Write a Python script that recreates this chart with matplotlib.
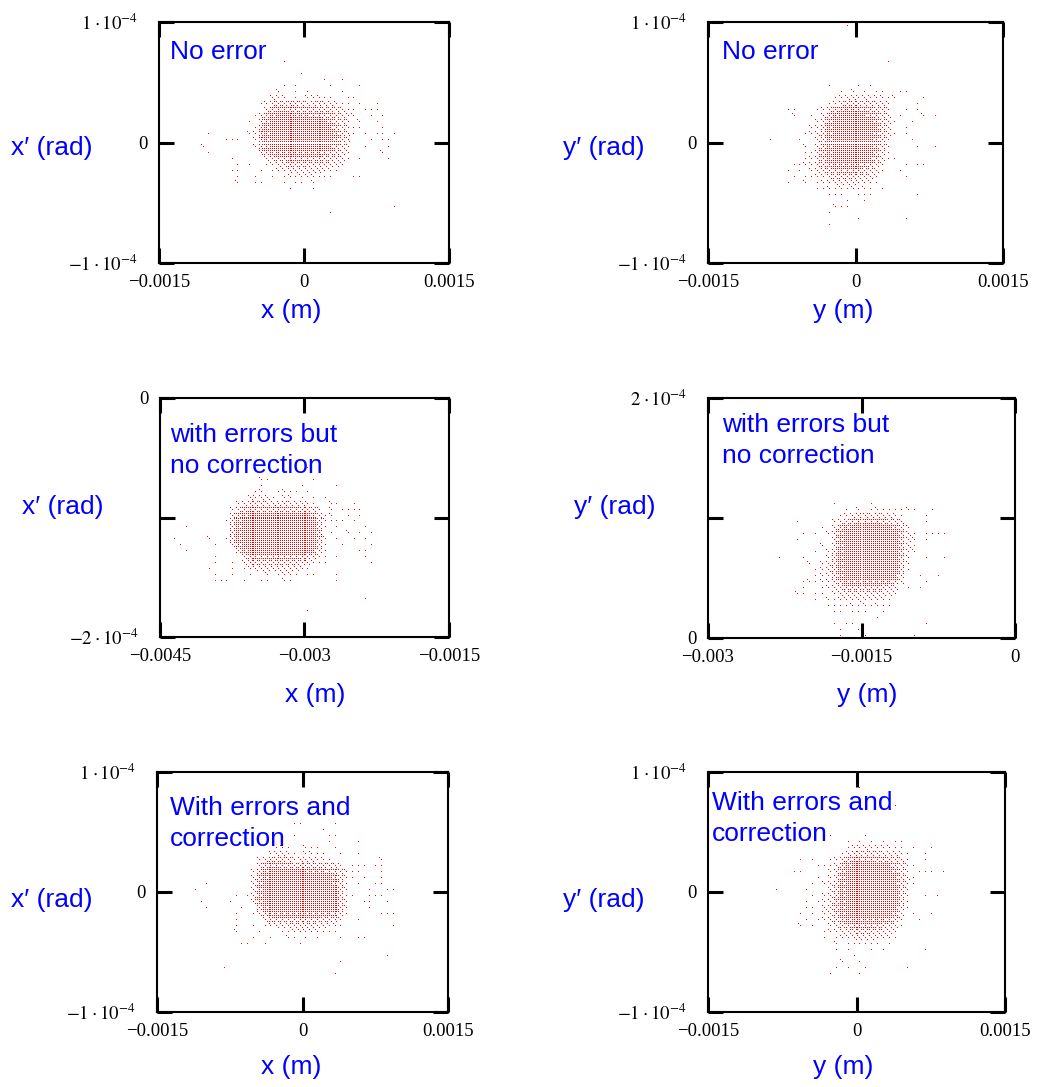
import numpy as np
import matplotlib.pyplot as plt
from matplotlib.transforms import ScaledTranslation

plt.rcParams['mathtext.fontset'] = 'stix'

W, H = 1039, 1087

# phase-space clouds, one digit per cell = number of particles in that cell
CELL_X = 6e-5   # m
CELL_Y = 5e-6   # rad

# x-x' without errors, grid starts at x=-1.08e-3, x'=7.5e-5
X_NO_ERROR = [
    "00000 00000 00000 00000 00000 00000 00000",
    "00000 00000 00001 00000 00000 00000 00000",
    "00000 00000 00000 00000 00000 00000 00000",
    "00000 00000 00000 00100 00000 00000 00000",
    "00000 00000 00000 00000 01001 00000 00000",
    "00000 00000 00001 01000 00100 00100 00000",
    "00000 00000 00020 01010 00001 00000 00000",
    "00000 00000 00322 01022 21100 11000 00000",
    "00000 00000 12455 45434 43321 10100 10000",
    "00000 00000 03677 66666 55543 11011 10000",
    "00000 00001 36899 88887 76653 22001 01000",
    "00000 00010 47999 99999 99754 20200 10000",
    "00000 00001 58999 99999 99864 21100 01000",
    "01000 00022 68999 99999 99975 31010 11010",
    "00001 11002 68999 99999 99975 30001 01100",
    "20000 00002 57999 99999 99864 20010 00100",
    "01000 00000 46888 88888 87653 20000 02000",
    "00000 10000 03466 77776 65543 10100 00100",
    "00000 01010 01234 55554 44332 00000 00000",
    "00000 11000 10122 33333 32210 00000 00000",
    "00000 01001 00101 21222 11100 01100 00000",
    "00000 02001 10001 01102 00000 00000 00000",
    "00000 00000 00000 10001 00000 00000 00000",
    "00000 00000 00000 00000 00000 00000 00000",
    "00000 00000 00000 00000 00000 00000 00000",
    "00000 00000 00000 00000 00000 00000 00010",
    "00000 00000 00000 00000 00100 00000 00000",
]

# y-y' without errors, grid starts at y=-1.02e-3, y'=1e-4
Y_NO_ERROR = [
    "00000 00000 00000 10000 00000 00000 00000",
    "00000 00000 00000 00000 00000 00000 00000",
    "00000 00000 00000 00000 00000 00000 00000",
    "00000 00000 00000 00000 00000 00000 00000",
    "00000 00000 00000 00000 00000 00000 00000",
    "00000 00000 00000 00000 00000 00000 00000",
    "00000 00000 00000 00000 00100 00000 00000",
    "00000 00000 00000 00000 00000 00000 00000",
    "00000 00000 00000 00000 00000 00000 00000",
    "00000 00000 00000 00000 00000 00000 00000",
    "00000 00000 00100 00101 00000 00000 00000",
    "00000 00000 00001 02010 11001 10000 00000",
    "00000 00000 00012 33232 22120 00010 00000",
    "00000 00000 00124 55544 33200 00100 00000",
    "00000 11000 12467 88776 54200 10100 00000",
    "00000 02001 03689 99987 64301 00020 10000",
    "00000 00000 24799 99999 75310 01000 00000",
    "00000 00002 25899 99999 85300 10000 00000",
    "00000 00012 35899 99999 75310 10000 00000",
    "00100 00100 35899 99999 75200 01000 00000",
    "00000 00020 36899 99999 74200 00100 10000",
    "00000 00011 46899 99999 64100 00000 00000",
    "00000 00012 46899 99998 63110 00000 00000",
    "00000 01122 45788 88876 42000 10110 00000",
    "00000 10102 34567 77654 31001 00000 00000",
    "00000 01011 22455 55443 20000 10000 00000",
    "00000 10020 12233 33222 10000 00000 00000",
    "00000 00000 11212 12121 01000 00000 00000",
    "00000 00000 00111 00111 00000 00100 00000",
    "00000 00000 00000 10010 00000 00000 00000",
    "00000 00000 00021 10000 00000 00000 00000",
    "00000 00000 00100 00000 00000 00000 00000",
    "00000 00000 00000 00100 00000 10000 00000",
    "00000 00000 00100 00000 00000 00000 00000",
]

# x-x' with errors, no correction, grid starts at x=-4.38e-3, x'=-5.5e-5
X_ERRORS = [
    "00000 00000 00000 00000 00010 00000 00000",
    "00000 00000 00000 00000 00000 00000 00000",
    "00000 00000 00000 21000 00001 00000 00000",
    "00000 00000 00000 10000 00100 00010 00000",
    "00000 00000 00001 20012 11010 00000 00000",
    "00000 00000 00032 33102 20101 01000 00000",
    "00000 00000 02344 43334 33321 00210 01000",
    "00000 00000 24676 66666 66554 20201 11100",
    "00000 00000 46899 99999 99997 41200 10100",
    "00000 00001 58999 99999 99999 52111 01000",
    "00100 00000 58999 99999 99999 51010 00010",
    "00000 00000 58999 99999 99999 60100 20101",
    "10000 02001 58999 99999 99999 62010 01010",
    "01000 00100 47999 99999 99999 51001 00001",
    "00100 00000 05899 99999 99998 41000 00110",
    "00000 00100 00467 77777 77654 21010 00010",
    "00000 00100 10345 55555 55432 11000 00001",
    "00000 01000 10123 33333 33210 00000 00000",
    "00000 00100 10010 02012 21011 00010 00000",
    "00000 00111 00100 11002 10000 00010 00000",
    "00000 00000 00000 00000 00000 00000 00000",
    "00000 00000 00000 00000 00000 00000 00000",
    "00000 00000 00000 00000 00000 00000 00010",
    "00000 00000 00000 00000 00000 00000 00000",
    "00000 00000 00000 00000 00010 00000 00000",
]

# y-y' with errors, no correction, grid starts at y=-2.4e-3, y'=1.2e-4
Y_ERRORS = [
    "00000 00000 00000 00000 00000 00000 00000",
    "00000 00000 10000 01000 00000 00000 00000",
    "00000 00000 00102 01211 11210 01000 00000",
    "00000 00000 01234 43433 21000 10000 00000",
    "00001 00000 23567 77765 43000 10000 00000",
    "00000 00010 36899 99999 75200 00000 00000",
    "00000 10102 47999 99999 96310 11110 00000",
    "00001 00000 47999 99999 96320 10000 00000",
    "00000 00020 47999 99999 96310 00000 00000",
    "00000 00102 58999 99999 96220 00000 00000",
    "01000 10002 58999 99999 96200 10010 00000",
    "00000 02023 58999 99999 95200 00000 00000",
    "00000 00123 58999 99999 95100 00000 00000",
    "00000 00122 57999 99999 84001 00100 00000",
    "00000 12122 46888 88888 63000 10000 00000",
    "00000 10012 34666 66654 30101 00000 00000",
    "00002 10110 23444 44433 20000 00000 00000",
    "00000 00102 12223 22221 00000 00000 00000",
    "00000 00001 11121 21211 00000 00000 00000",
    "00000 00000 11011 10010 00000 00000 00000",
    "00000 00000 00000 00100 00000 00000 00000",
    "00000 00000 10110 00000 00000 10000 00000",
    "00000 00000 01001 00000 00000 00000 00000",
    "00000 00000 01000 10000 00010 00000 00000",
]

# x-x' with errors and correction, grid starts at x=-1.14e-3, x'=6.5e-5
X_CORRECTED = [
    "00000 00000 00000 00000 00000 00000 00000",
    "00000 00000 00000 00110 00001 00000 00000",
    "00000 00000 00000 00000 00100 00000 00000",
    "00000 00000 00000 00100 00011 00000 00000",
    "00000 00000 00000 00000 00010 00010 00000",
    "00000 00000 00001 21002 11001 00000 00000",
    "00000 00000 00023 32102 21100 10010 00000",
    "00000 00000 02355 54233 32210 00000 00200",
    "00000 00000 04677 66555 55543 20111 01100",
    "00000 00000 25899 99998 88876 42110 00100",
    "00000 00000 36899 99999 99997 52101 00100",
    "00100 00000 37999 99999 99997 41010 01100",
    "10000 00000 37999 99999 99999 52000 10011",
    "00000 00101 37999 99999 99999 51100 11100",
    "01000 01000 47999 99999 99999 52001 10010",
    "00100 00010 05899 99999 99999 52000 10000",
    "00000 00100 13688 88888 88887 41000 00111",
    "00000 00100 00356 66666 66554 20010 00000",
    "00000 00100 10123 34434 43322 10000 00001",
    "00000 00200 01000 11222 22111 00000 00000",
    "00000 00000 10010 02101 01000 10011 00000",
    "00000 00011 00100 00010 00000 00000 00000",
    "00000 00000 00000 00000 00000 00000 00000",
    "00000 00000 00000 00000 00000 00000 00010",
    "00000 00000 00000 00000 00000 10000 00000",
    "00000 10000 00000 00000 00000 00000 00000",
    "00000 00000 00000 00000 00001 00000 00000",
]

# y-y' with errors and correction, grid starts at y=-8.4e-4, y'=9e-5
Y_CORRECTED = [
    "00000 00000 00001 00000 00000 00000 00000",
    "00000 00000 00000 00000 00000 00000 00000",
    "00000 00000 00000 00000 00000 00000 00000",
    "00000 00000 00000 00000 10000 00000 00000",
    "00000 00000 00000 00000 00000 00000 00000",
    "00000 00000 00000 00000 00000 00000 00000",
    "00000 00000 00000 00000 00000 00000 00000",
    "00000 00000 00000 00000 00000 00000 00000",
    "00000 00001 00000 10000 00000 00000 00000",
    "00000 00000 00101 01010 11000 00000 00000",
    "00000 00000 00122 32222 11010 01000 00000",
    "00000 00000 01344 44433 32100 10000 00000",
    "00001 01001 24677 77665 43100 10000 00000",
    "00000 00111 36899 99998 64210 00000 00000",
    "00011 00002 47999 99999 75201 11010 00000",
    "00000 00102 47999 99999 85310 00000 00000",
    "00000 01023 58999 99999 85210 00000 00000",
    "10000 10003 58999 99999 95200 00000 00000",
    "00000 01023 58999 99999 95200 10100 00000",
    "00000 10123 68999 99999 95100 00000 00000",
    "00000 11034 68999 99999 84100 00000 00000",
    "00001 01023 68999 99999 73010 01000 00000",
    "00000 10123 57888 88887 52001 00000 00000",
    "00002 01002 35677 77654 31000 00000 00000",
    "00000 00012 23445 55433 20000 00000 00000",
    "00000 00010 12233 33222 10000 00000 00000",
    "00000 00000 20111 11101 00000 00000 00000",
    "00000 00000 10100 01010 00000 10000 00000",
    "00000 00000 00010 00000 00000 00000 00000",
    "00000 00000 02001 00000 00000 00000 00000",
    "00000 00000 10100 10000 00100 00000 00000",
    "00000 00001 00001 00000 00000 00000 00000",
]

CLOUDS = [X_NO_ERROR, Y_NO_ERROR, X_ERRORS, Y_ERRORS, X_CORRECTED, Y_CORRECTED]
GRID_ORIGINS = [(-1.08e-3, 7.5e-5), (-1.02e-3, 1e-4), (-4.38e-3, -5.5e-5),
                (-2.4e-3, 1.2e-4), (-1.14e-3, 6.5e-5), (-8.4e-4, 9e-5)]

XLIMS = [(-0.0015, 0.0015), (-0.0015, 0.0015), (-0.0045, -0.0015),
         (-0.003, 0.0), (-0.0015, 0.0015), (-0.0015, 0.0015)]
YLIMS = [(-1e-4, 1e-4), (-1e-4, 1e-4), (-2e-4, 0.0),
         (0.0, 2e-4), (-1e-4, 1e-4), (-1e-4, 1e-4)]
XTICKLABELS = [["\u22120.0015", "0", "0.0015"],
               ["\u22120.0015", "0", "0.0015"],
               ["\u22120.0045", "\u22120.003", "\u22120.0015"],
               ["\u22120.003", "\u22120.0015", "0"],
               ["\u22120.0015", "0", "0.0015"],
               ["\u22120.0015", "0", "0.0015"]]
YTICKLABELS = [[r"$-1\;{\cdot}\,10^{-4}$", "0", r"$1\;{\cdot}\,10^{-4}$"],
               [r"$-1\;{\cdot}\,10^{-4}$", "0", r"$1\;{\cdot}\,10^{-4}$"],
               [r"$-2\;{\cdot}\,10^{-4}$", "", "0"],
               ["0", "", r"$2\;{\cdot}\,10^{-4}$"],
               [r"$-1\;{\cdot}\,10^{-4}$", "0", r"$1\;{\cdot}\,10^{-4}$"],
               [r"$-1\;{\cdot}\,10^{-4}$", "0", r"$1\;{\cdot}\,10^{-4}$"]]
XLABELS = ["x (m)", "y (m)", "x (m)", "y (m)", "x (m)", "y (m)"]
YLABELS = ["x\u2032 (rad)", "y\u2032 (rad)", "x\u2032 (rad)",
           "y\u2032 (rad)", "x\u2032 (rad)", "y\u2032 (rad)"]
CAPTIONS = [["No error"], ["No error"],
            ["with errors but", "no correction"],
            ["with errors but", "no correction"],
            ["With errors and", "correction"],
            ["With errors and", "correction"]]

# layout in pixels: axes box (left, top, right, bottom)
BOXES = [(159, 22, 449, 263), (708, 22, 1003, 263),
         (160, 398, 449, 637), (708, 398, 1015, 638),
         (157, 772, 448, 1012), (708, 772, 1005, 1012)]
XLABEL_POS = [(291, 311), (843, 311), (315, 695), (867, 695), (291, 1067), (843, 1067)]
YLABEL_POS = [(52, 148), (604, 148), (63, 507), (615, 507), (52, 900), (604, 900)]
CAPTION_POS = [(170, 59), (722, 59), (170, 442), (722, 432), (170, 815), (712, 810)]
CAPTION_STEP = 31

BLUE = "#0000ff"
SANS = ["Liberation Sans", "DejaVu Sans"]
SERIF = ["Liberation Serif", "DejaVu Serif"]

# sub-cell lattice order used to place particles inside a cell
FILL_ORDER = [(1, 1), (0, 0), (2, 2), (2, 0), (0, 2), (1, 0), (1, 2), (0, 1), (2, 1)]


def cloud_points(rows, x0, y_top):
    xs, ys = [], []
    for j, row in enumerate(rows):
        row = row.replace(" ", "")
        for k, ch in enumerate(row):
            for a, b in FILL_ORDER[:int(ch)]:
                xs.append(x0 + (k + (a + 0.5) / 3) * CELL_X)
                ys.append(y_top - (j + (b + 0.5) / 3) * CELL_Y)
    return np.array(xs), np.array(ys)


fig = plt.figure(figsize=(W / 100, H / 100), dpi=100)
# power-of-ten labels sit a little further from the frame
exp_shift = ScaledTranslation(-7 / 72, 0, fig.dpi_scale_trans)

for i in range(6):
    l, t, r, b = BOXES[i]
    ax = fig.add_axes([l / W, 1 - b / H, (r - l) / W, (b - t) / H])
    xs, ys = cloud_points(CLOUDS[i], *GRID_ORIGINS[i])
    # one-pixel particles, no smoothing so each lands on a single pixel
    ax.plot(xs, ys, ls="none", marker="s", markersize=0.72, mew=0,
            color="#ff0000", antialiased=False)

    ax.set_xlim(*XLIMS[i])
    ax.set_ylim(*YLIMS[i])
    x_lo, x_hi = XLIMS[i]
    y_lo, y_hi = YLIMS[i]
    ax.set_xticks([x_lo, (x_lo + x_hi) / 2, x_hi])
    ax.set_yticks([y_lo, (y_lo + y_hi) / 2, y_hi])
    ax.set_xticklabels(XTICKLABELS[i], family=SERIF, fontsize=13.5)
    ax.set_yticklabels(YTICKLABELS[i], family=SERIF, fontsize=13.5)
    ax.tick_params(direction="in", length=11, width=2.2, top=True, right=True,
                   pad=8, color="black")
    for lbl in ax.get_yticklabels():
        if "10" in lbl.get_text():
            lbl.set_transform(lbl.get_transform() + exp_shift)
    for sp in ax.spines.values():
        sp.set_linewidth(1.5)
        sp.set_color("black")

    fig.text(XLABEL_POS[i][0] / W, 1 - XLABEL_POS[i][1] / H, XLABELS[i],
             ha="center", va="center", color=BLUE, fontsize=19, family=SANS)
    fig.text(YLABEL_POS[i][0] / W, 1 - YLABEL_POS[i][1] / H, YLABELS[i],
             ha="center", va="center", color=BLUE, fontsize=19, family=SANS)
    cx, cy = CAPTION_POS[i]
    for n, line in enumerate(CAPTIONS[i]):
        fig.text(cx / W, 1 - (cy + n * CAPTION_STEP) / H, line,
                 ha="left", va="baseline", color=BLUE, fontsize=19, family=SANS)

fig.savefig("out.png", dpi=100, facecolor="white")
